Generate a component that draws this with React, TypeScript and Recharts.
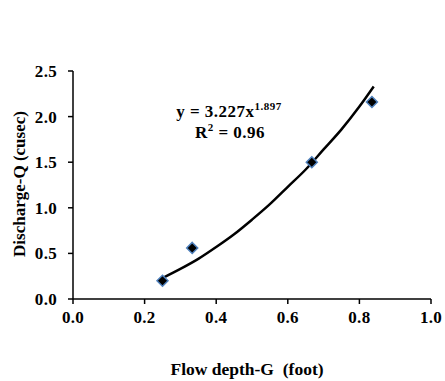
import { ComposedChart, Line, Scatter, XAxis, YAxis, Customized } from 'recharts'

const FONT = '"Liberation Serif", "Times New Roman", serif'

// measured points
const depthG = [0.25, 0.333, 0.667, 0.835]
const dischargeQ = [0.2, 0.56, 1.5, 2.16]

// power trendline
const trendX = [0.25, 0.3, 0.35, 0.4, 0.45, 0.5, 0.55, 0.6, 0.65, 0.7, 0.75, 0.8, 0.84]
const trendY = [0.23, 0.33, 0.44, 0.57, 0.71, 0.87, 1.04, 1.23, 1.42, 1.64, 1.86, 2.11, 2.33]

const xTicks = [0, 0.2, 0.4, 0.6, 0.8, 1.0]
const yTicks = [0, 0.5, 1.0, 1.5, 2.0, 2.5]

const points = depthG.map((x, i) => ({ x, y: dischargeQ[i] }))
const trend = trendX.map((x, i) => ({ x, y: trendY[i] }))

const tickStyle = { fontFamily: FONT, fontSize: 17, fontWeight: 'bold', fill: '#000', letterSpacing: 0.3 }

function Diamond(props: any) {
  const { cx, cy } = props
  const r = 5.5
  return (
    <polygon
      points={`${cx},${cy - r} ${cx + r},${cy} ${cx},${cy + r} ${cx - r},${cy}`}
      fill="#000"
      stroke="#4f81bd"
      strokeWidth={1.5}
    />
  )
}

function Texts() {
  return (
    <g fontFamily={FONT} fontWeight="bold" fill="#000">
      <text x={229} y={117} fontSize={17} letterSpacing={0.5} textAnchor="middle">
        y = 3.227x<tspan fontSize={11} dy={-7}>1.897</tspan>
      </text>
      <text x={230} y={138} fontSize={17} letterSpacing={0.5} textAnchor="middle">
        R<tspan fontSize={11} dy={-7}>2</tspan><tspan dy={7}> = 0.96</tspan>
      </text>
      <text x={247} y={375} fontSize={17.5} textAnchor="middle">{'Flow depth-G\u00a0 (foot)'}</text>
      <text
        x={19}
        y={184}
        fontSize={17}
        textAnchor="middle"
        dominantBaseline="central"
        transform="rotate(-90 19 184)"
      >
        Discharge-Q (cusec)
      </text>
    </g>
  )
}

export default function App() {
  return (
    <div style={{ position: 'absolute', left: 0, top: 0, background: '#fff' }}>
      <ComposedChart
        width={445}
        height={381}
        margin={{ top: 71, right: 14, bottom: 52, left: 33 }}
      >
        <XAxis
          type="number"
          dataKey="x"
          domain={[0, 1]}
          ticks={xTicks}
          tickFormatter={(v: number) => v.toFixed(1)}
          tick={tickStyle}
          stroke="#000"
          strokeWidth={1.5}
          tickSize={5}
          tickMargin={7}
          height={30}
          allowDataOverflow
        />
        <YAxis
          type="number"
          dataKey="y"
          domain={[0, 2.5]}
          ticks={yTicks}
          tickFormatter={(v: number) => v.toFixed(1)}
          tick={tickStyle}
          stroke="#000"
          strokeWidth={1.5}
          tickSize={5}
          tickMargin={11}
          width={40}
        />
        <Line
          data={trend}
          dataKey="y"
          type="monotone"
          stroke="#000"
          strokeWidth={2.5}
          dot={false}
          isAnimationActive={false}
        />
        <Scatter data={points} dataKey="y" shape={<Diamond />} isAnimationActive={false} />
        <Customized component={Texts} />
      </ComposedChart>
    </div>
  )
}
